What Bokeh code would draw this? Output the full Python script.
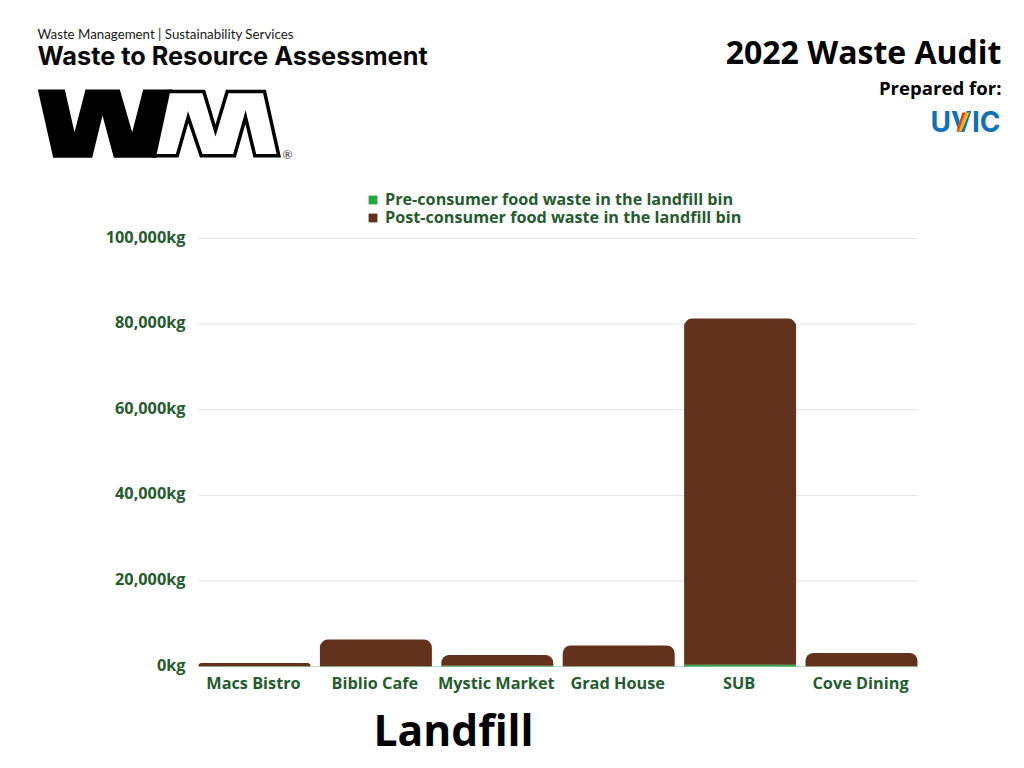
from bokeh.embed import file_html
from bokeh.resources import INLINE
from bokeh.plotting import figure
from bokeh.models import (ColumnDataSource, Range1d, Label, PolyAnnotation,
                          Legend, LegendItem, FixedTicker)

# ---- data ----
venues = ["Macs Bistro", "Biblio Cafe", "Mystic Market", "Grad House", "SUB", "Cove Dining"]
pre_consumer = [40, 60, 150, 60, 400, 40]
post_consumer = [760, 6240, 2550, 4840, 80900, 3110]
y_ticks = [0, 20000, 40000, 60000, 80000, 100000]
y_tick_labels = ["0kg", "20,000kg", "40,000kg", "60,000kg", "80,000kg", "100,000kg"]
pre_label = "Pre-consumer food waste in the landfill bin"
post_label = "Post-consumer food waste in the landfill bin"

GREEN_TEXT = "#255b2e"
FONT = "Open Sans"
W, H = 1024, 768
FL, FR, FT, FB = 198, 917, 238, 666   # plot-area edges on the page
STEP = 121.4                          # pixels per category
CX0 = 254.0                           # pixel centre of first category
YPX = 100000 / (FB - FT)              # kg per pixel

x_pos = list(range(len(venues)))
source = ColumnDataSource(dict(x=x_pos, pre=pre_consumer, post=post_consumer))

y0, y1 = -(H - FB) * YPX, FB * YPX
x0, x1 = -CX0 / STEP, (W - CX0) / STEP

p = figure(width=W, height=H, output_backend="svg", toolbar_location=None,
           x_range=Range1d(x0, x1), y_range=Range1d(y0, y1),
           min_border=0, outline_line_color=None,
           background_fill_color="white", border_fill_color="white")
# label ranges nudge the tick texts by a pixel or two relative to the marks
p.extra_y_ranges = {"labels": Range1d(y0 - 2 * YPX, y1 - 2 * YPX)}
p.extra_x_ranges = {"labels": Range1d(x0 + 1 / STEP, x1 + 1 / STEP)}

xl, xr = (FL - CX0) / STEP, (FR - CX0) / STEP
p.grid.visible = False
p.segment(x0=[xl] * len(y_ticks), x1=[xr] * len(y_ticks), y0=y_ticks, y1=y_ticks,
          line_color=["#c6d6ca"] + ["#e4e4e4"] * 5, line_width=1)

r = p.vbar_stack(["pre", "post"], x="x", width=112 / STEP, source=source,
                 color=["#22a83f", "#62321c"], line_color=None)
r[1].glyph.border_radius = {"top_left": 8, "top_right": 8, "bottom_left": 0, "bottom_right": 0}

yax, xax = p.yaxis[0], p.xaxis[0]
yax.fixed_location = xl
xax.fixed_location = 0
yax.y_range_name = "labels"
xax.x_range_name = "labels"
yax.ticker = FixedTicker(ticks=y_ticks)
yax.major_label_overrides = dict(zip(y_ticks, y_tick_labels))
xax.ticker = FixedTicker(ticks=x_pos)
xax.major_label_overrides = dict(zip(x_pos, venues))
for ax in (xax, yax):
    ax.axis_line_color = None
    ax.major_tick_line_color = None
    ax.minor_tick_line_color = None
    ax.major_label_text_font = FONT
    ax.major_label_text_font_style = "bold"
    ax.major_label_text_font_size = "16.3px"
    ax.major_label_text_color = GREEN_TEXT
yax.major_label_standoff = 7
xax.major_label_standoff = -1

# two one-row legends: the rows sit closer together than a single Legend allows
for label, rend, bottom in ((pre_label, r[0], 210), (post_label, r[1], 228)):
    p.add_layout(Legend(items=[LegendItem(label=label, renderers=[rend])],
                        location=(367, H - bottom), orientation="vertical",
                        background_fill_alpha=0, border_line_color=None,
                        padding=0, margin=0, spacing=0, glyph_width=11, glyph_height=11,
                        label_standoff=7, label_height=18,
                        label_text_font=FONT, label_text_font_style="bold",
                        label_text_font_size="16.2px", label_text_color=GREEN_TEXT), "center")


def text(s, x, y, size, font=FONT, style="bold", color="black", align="left"):
    p.add_layout(Label(x=x, y=H - y, x_units="screen", y_units="screen", text=s,
                       text_font=font, text_font_style=style, text_font_size=size,
                       text_color=color, text_align=align, text_baseline="alphabetic"))


def poly(pts, fill, line=None, lw=0):
    p.add_layout(PolyAnnotation(xs=[a for a, b in pts], ys=[H - b for a, b in pts],
                                xs_units="screen", ys_units="screen",
                                fill_color=fill, fill_alpha=1, line_color=line, line_width=lw,
                                line_join="miter", line_alpha=1 if line else 0))


text("Landfill", 453, 728, "42.6px", align="center")
text("2022 Waste Audit", 1001, 51, "32px", align="right")
text("Prepared for:", 1001, 87, "18.6px", align="right")
text("Waste Management | Sustainability Services", 37, 33, "13.3px", font="Lato", style="normal", color="#1a1a14")
text("Waste to Resource Assessment", 37, 55, "25.3px", font="Inter", style="bold", color="#0a0a0a")
text("®", 282, 154, "12px", font="Lato", style="normal", color="#333333")

# WM logo
poly([(37.3, 89), (64.3, 89), (74, 131.7), (85, 89), (119.3, 89), (131.7, 131.7), (142.7, 89), (172, 89),
      (156, 157.3), (113.3, 157.3), (102, 115), (91.7, 157.3), (52.7, 157.3)], "black")
poly([(168, 91), (203.3, 91), (215, 130), (226.7, 91), (264, 91), (278.3, 155.3), (254.3, 155.3),
      (245, 116.7), (234, 155.3), (200.7, 155.3), (187.7, 116.7), (176.7, 155.3), (154, 155.3)],
     "white", "black", 3.5)

# UVIC wordmark
text("UVIC", 930, 121, "28px", font="Inter", style="bold", color="#0f72b9")
poly([(962, 112), (969, 112), (961, 131), (956, 131)], "#f5b417")
poly([(962, 112), (965, 112), (958, 131), (956, 131)], "#d9481c")

open("out.html", "w").write(file_html(p, INLINE))
